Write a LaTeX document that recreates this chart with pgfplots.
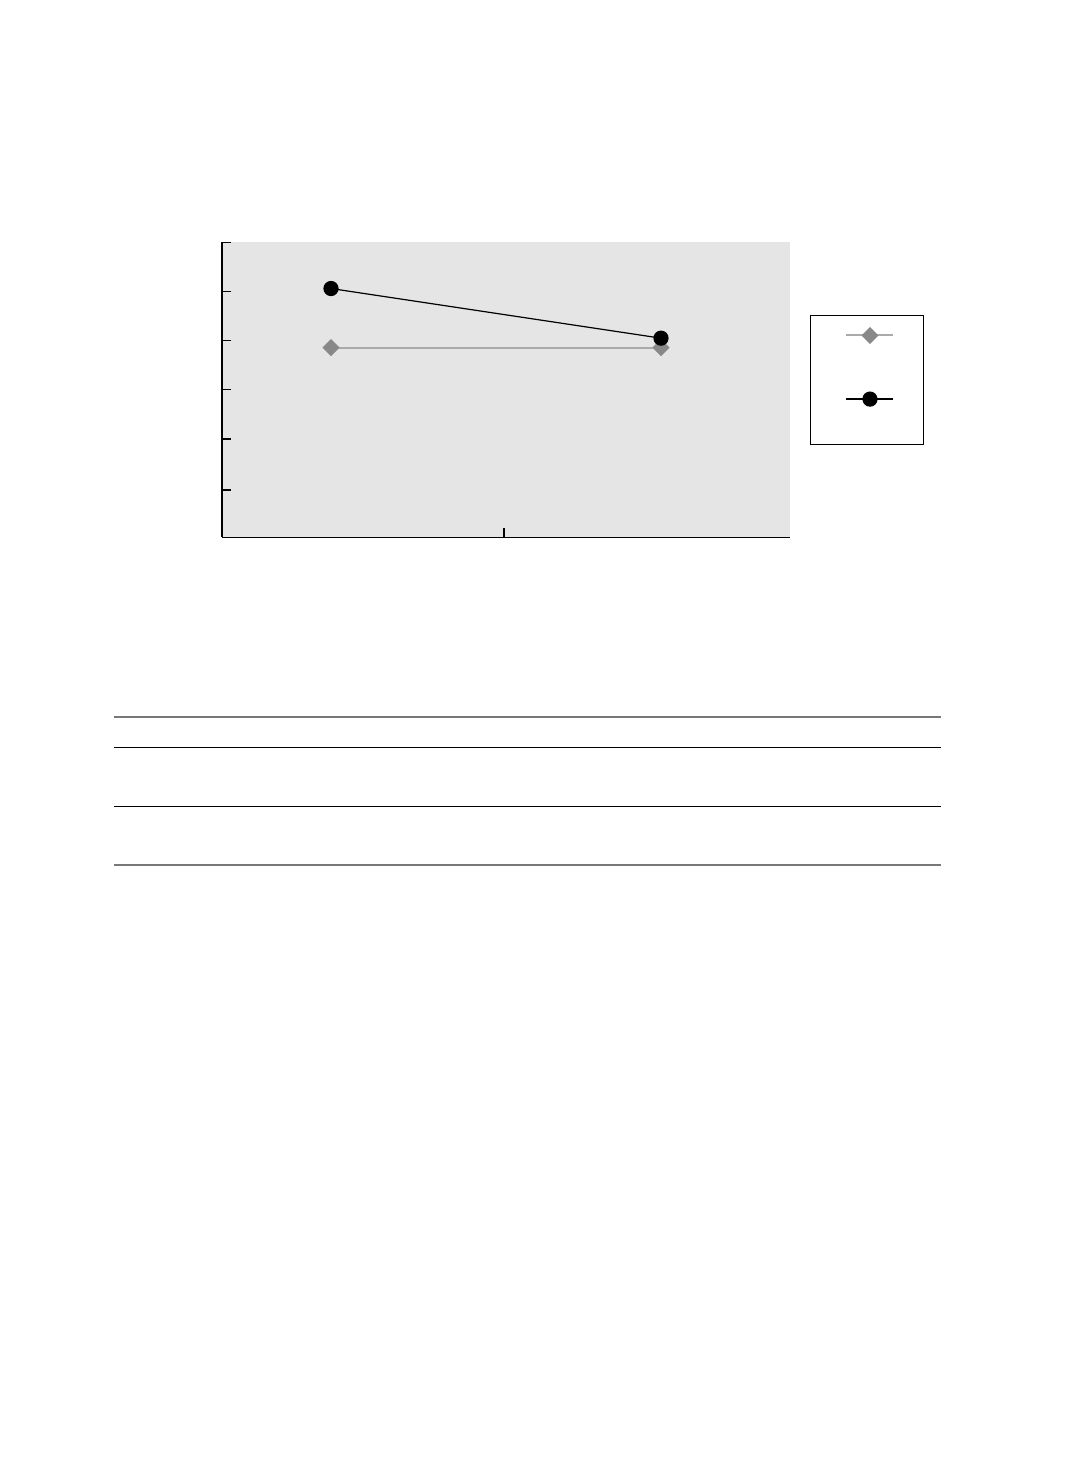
\documentclass[border=0pt]{standalone}
\usepackage{pgfplots}
\pgfplotsset{compat=1.18}
\definecolor{panel}{RGB}{229,229,229}
\definecolor{diamondgray}{RGB}{136,136,136}
\definecolor{linegray}{RGB}{170,170,170}
\definecolor{rulegray}{RGB}{120,120,120}

\begin{document}
\begin{tikzpicture}
  % page frame, 1 px of the reference = 0.5pt
  \path[use as bounding box] (0pt,0pt) rectangle (541pt,740pt);

  \begin{axis}[
      at={(111pt,471.35pt)}, anchor=south west,
      scale only axis,
      width=284pt, height=147.5pt,
      xmin=0.6697, xmax=2.3909,
      ymin=0, ymax=6,
      xtick={1.5242}, xticklabels={},
      ytick={0.96,2,3,4,5,6}, yticklabels={},
      axis x line*=bottom, axis y line*=left,
      axis line style={black, line width=0.6pt, -},
      tick align=inside, major tick length=4.5pt,
      tick style={black, line width=0.6pt},
      axis background/.style={fill=panel},
      clip=false,
      legend image code/.code={
        \path (0pt,-9.5pt) (0pt,9.5pt);
        \draw[mark repeat=2, mark phase=2, #1]
          plot coordinates {(4pt,0pt) (15.75pt,0pt) (27.5pt,0pt)};
      },
      legend style={
        at={(1.0352,0.7536)}, anchor=north west,
        draw=black, line width=0.5pt, fill=white,
        inner xsep=13.5pt, inner ysep=0pt,
        row sep=12pt,
        nodes={inner sep=0pt, text depth=0pt},
      },
    ]
    \addplot[linegray, line width=1pt, mark=square*,
      mark size=2.9pt,
      mark options={rotate=45, fill=diamondgray, draw=diamondgray, line width=0.2pt}]
      coordinates {(1,3.86) (2,3.86)};
    \addlegendentry{\rule{0pt}{0pt}}

    \addplot[black, line width=0.6pt, mark=*, mark size=3.5pt,
      mark options={fill=black, draw=black}]
      coordinates {(1,5.06) (2,4.05)};
    \addlegendentry{\rule{0pt}{0pt}}

    \addlegendimage{empty legend}
    \addlegendentry{\rule{0pt}{0pt}}
  \end{axis}

  % rules of the table below the chart
  \draw[rulegray, line width=1pt] (57pt,381.35pt) -- (470.5pt,381.35pt);
  \draw[black, line width=0.6pt] (57pt,366.35pt) -- (470.5pt,366.35pt);
  \draw[black, line width=0.6pt] (57pt,336.85pt) -- (470.5pt,336.85pt);
  \draw[rulegray, line width=1pt] (57pt,307.65pt) -- (470.5pt,307.65pt);
\end{tikzpicture}
\end{document}
